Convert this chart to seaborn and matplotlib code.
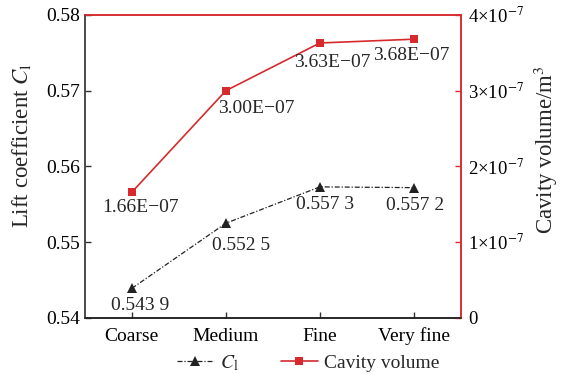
import matplotlib
matplotlib.use('Agg')
import matplotlib.pyplot as plt
import seaborn as sns
import pandas as pd

# ================= data =================
grids = ['Coarse', 'Medium', 'Fine', 'Very fine']
lift = [0.5439, 0.5525, 0.5573, 0.5572]
lift_text = ['0.543 9', '0.552 5', '0.557 3', '0.557 2']
cavity = [1.66e-7, 3.00e-7, 3.63e-7, 3.68e-7]
cavity_text = ['1.66E\u221207', '3.00E\u221207', '3.63E\u221207', '3.68E\u221207']
lift_ticks = [0.54, 0.55, 0.56, 0.57, 0.58]
cav_ticks = [0, 1e-7, 2e-7, 3e-7, 4e-7]
cav_tick_labels = ['0', '1×10$^{-7}$', '2×10$^{-7}$', '3×10$^{-7}$', '4×10$^{-7}$']

# label offsets (points) relative to each marker
lift_off = [(6, -12), (11, -16), (4, -13), (1, -13)]
cav_off = [(6, -11), (22, -13), (9, -14), (-2, -12)]

RED = '#d62a2e'

sns.set_style('ticks')
plt.rcParams['font.family'] = ['Liberation Serif', 'DejaVu Serif']
plt.rcParams['mathtext.fontset'] = 'stix'
plt.rcParams['font.size'] = 14

df = pd.DataFrame({'grid': grids, 'lift': lift, 'cavity': cavity})

fig = plt.figure(figsize=(5.62, 3.74), dpi=100)
ax = fig.add_axes([0.151, 0.150, 0.669, 0.810])
ax2 = ax.twinx()

sns.lineplot(data=df, x='grid', y='lift', ax=ax, sort=False, color='#222222',
             marker='^', markersize=7, markeredgewidth=0, lw=0.9,
             linestyle=(0, (4, 1.5, 1, 1.5)), label=r'$C_\mathrm{l}$', legend=False)
sns.lineplot(data=df, x='grid', y='cavity', ax=ax2, sort=False, color=RED,
             marker='s', markersize=6, markeredgewidth=0, lw=1.2,
             label='Cavity volume', legend=False)

for i, (v, t) in enumerate(zip(lift, lift_text)):
    ax.annotate(t, (i, v), xytext=lift_off[i], textcoords='offset points',
                ha='center', va='center', fontsize=14)
for i, (v, t) in enumerate(zip(cavity, cavity_text)):
    ax2.annotate(t, (i, v), xytext=cav_off[i], textcoords='offset points',
                 ha='center', va='center', fontsize=14)

ax.set_xlim(-0.5, 3.5)
ax.set_ylim(0.54, 0.58)
ax2.set_ylim(0, 4e-7)
ax.set_yticks(lift_ticks)
ax.set_yticklabels([f'{t:.2f}' for t in lift_ticks])
ax2.set_yticks(cav_ticks)
ax2.set_yticklabels(cav_tick_labels)

ax.set_xlabel('')
ax.set_ylabel('')
ax2.set_ylabel('')
fig.text(0.039, 0.612, r'Lift coefficient $C_\mathrm{l}$', rotation=90,
         ha='center', va='center', fontsize=16.5)
fig.text(0.972, 0.599, r'Cavity volume/m$^3$', rotation=90,
         ha='center', va='center', fontsize=16.5)

ax.tick_params(axis='y', direction='in', length=4, width=1, colors='#333333',
               labelcolor='black', labelsize=14)
ax.tick_params(axis='x', direction='in', length=4, width=1, colors='#333333',
               labelcolor='black', labelsize=14, pad=7)
ax2.tick_params(axis='y', direction='in', length=4, width=1, colors=RED,
                labelcolor='black', labelsize=13.5, pad=5)

for a in (ax, ax2):
    a.spines['left'].set_color('#444444')
    a.spines['bottom'].set_color('#222222')
    a.spines['top'].set_color(RED)
    a.spines['right'].set_color(RED)
    for s in a.spines.values():
        s.set_linewidth(1.1)

h1, l1 = ax.get_legend_handles_labels()
h2, l2 = ax2.get_legend_handles_labels()
fig.legend(h1 + h2, l1 + l2, loc='center', bbox_to_anchor=(0.548, 0.03), ncol=2,
           frameon=False, fontsize=14, handlelength=1.9, columnspacing=2.2,
           handletextpad=0.3, borderaxespad=0)

plt.savefig('out.png', dpi=100)
